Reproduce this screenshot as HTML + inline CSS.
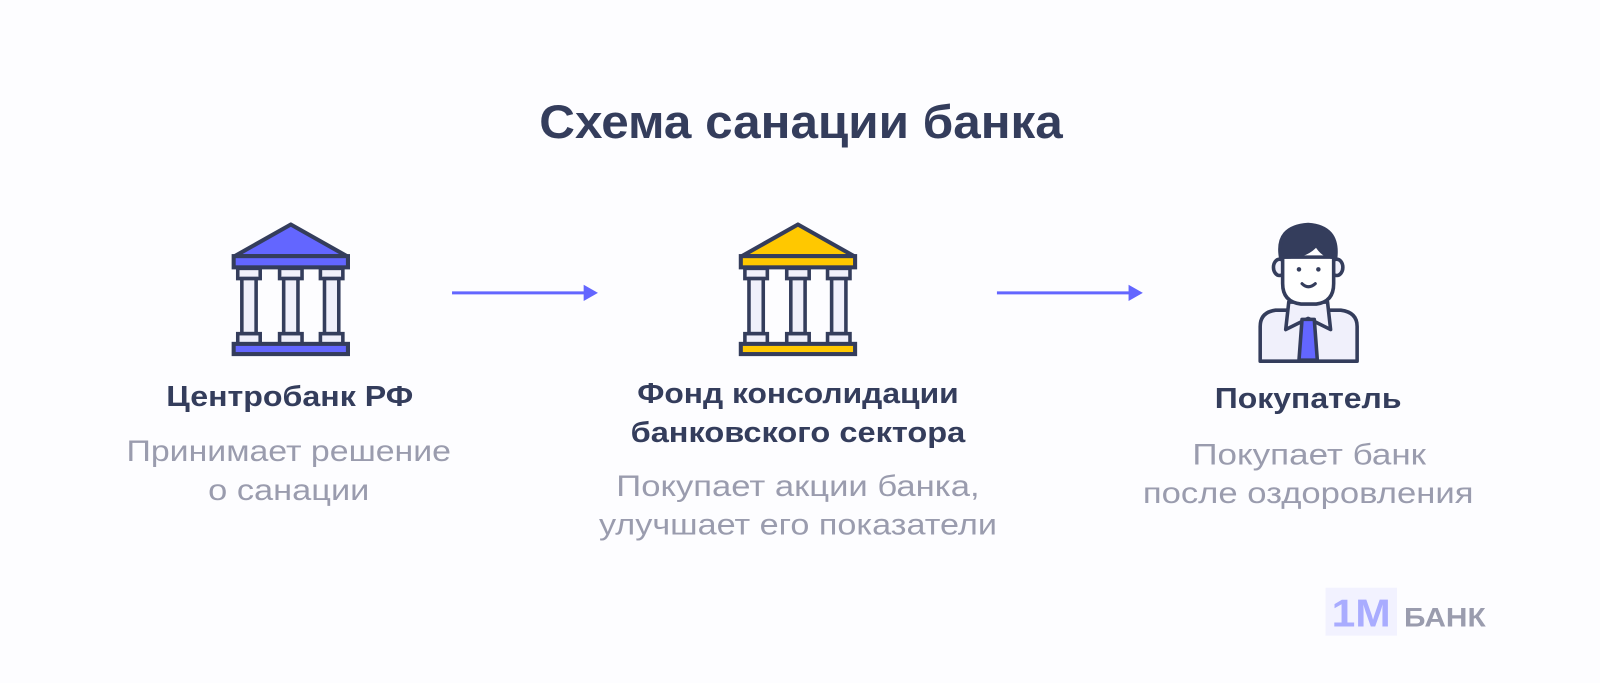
<!DOCTYPE html>
<html><head><meta charset="utf-8"><style>
html,body{margin:0;padding:0;background:#fdfdff;}
svg{display:block;}
.t{font-family:"Liberation Sans",sans-serif;}
</style></head><body>
<svg width="1600" height="683" viewBox="0 0 1600 683" xmlns="http://www.w3.org/2000/svg">
<rect width="1600" height="683" fill="#fdfdff"/>
<defs>
<g id="bank">
 <polygon points="0,-67 -55,-36 55,-36" stroke="#343d5c" stroke-width="4" stroke-linejoin="round"/>
 <rect x="-56" y="-36" width="112" height="11" stroke="#343d5c" stroke-width="4"/>
 <g fill="#f0f0fb" stroke="#343d5c" stroke-width="3.5">
  <rect x="-52" y="-24" width="22" height="10"/><rect x="-11" y="-24" width="22" height="10"/><rect x="29" y="-24" width="22" height="10"/>
  <rect x="-48" y="-14" width="14" height="54"/><rect x="-7" y="-14" width="14" height="54"/><rect x="33" y="-14" width="14" height="54"/>
  <rect x="-52" y="40" width="22" height="10"/><rect x="-11" y="40" width="22" height="10"/><rect x="29" y="40" width="22" height="10"/>
 </g>
 <rect x="-56" y="50" width="112" height="10" stroke="#343d5c" stroke-width="4"/>
</g>
</defs>
<g transform="scale(1.0204)">
<text class="t" x="785" y="135" text-anchor="middle" font-size="46" font-weight="bold" fill="#343d5c" textLength="513" lengthAdjust="spacingAndGlyphs">Схема санации банка</text>

<use href="#bank" x="285" y="287" fill="#6366ff"/>
<use href="#bank" x="782" y="287" fill="#ffc800"/>

<g stroke="#6366ff" stroke-width="3"><line x1="443" y1="287" x2="574" y2="287"/><line x1="977" y1="287" x2="1108" y2="287"/></g>
<polygon points="572,279 586,287 572,295" fill="#6366ff"/>
<polygon points="1106,279 1120,287 1106,295" fill="#6366ff"/>

<g stroke="#343d5c" stroke-width="3.5" stroke-linejoin="round">
 <path d="M1235,354 L1235,320 Q1235,306 1250,304 L1314,304 Q1330,306 1330,320 L1330,354 Z" fill="#f0f0fb"/>
 <polygon points="1263,296 1301,296 1304,323 1282,312 1260,323" fill="#f0f0fb"/>
 <polygon points="1276,313 1288,313 1291,353 1273,353" fill="#6366ff"/>
 <ellipse cx="1254" cy="262" rx="6" ry="8" fill="#f0f0fb"/>
 <ellipse cx="1310" cy="262" rx="6" ry="8" fill="#f0f0fb"/>
 <path d="M1257,252 L1257,278 Q1257,296 1275,298 L1290,298 Q1307,296 1307,278 L1307,252 Z" fill="#fff"/>
 <path d="M1255,252 Q1250,222 1282,220 Q1312,222 1309,252 L1305,252 Q1296,250 1290,240 Q1280,252 1258,252 Z" fill="#343d5c"/>
</g>
<circle cx="1273" cy="264" r="2.2" fill="#343d5c"/><circle cx="1292" cy="264" r="2.2" fill="#343d5c"/>
<path d="M1276,278 Q1282,284 1289,278" stroke="#343d5c" stroke-width="3" fill="none" stroke-linecap="round"/>

<g class="t" text-anchor="middle">
 <text x="284" y="398" font-size="28" font-weight="bold" fill="#343d5c" textLength="242" lengthAdjust="spacingAndGlyphs">Центробанк РФ</text>
 <text x="283" y="452" font-size="29" fill="#9a9cae" textLength="318" lengthAdjust="spacingAndGlyphs">Принимает решение</text>
 <text x="283" y="490" font-size="29" fill="#9a9cae" textLength="158" lengthAdjust="spacingAndGlyphs">о санации</text>

 <text x="782" y="395" font-size="28" font-weight="bold" fill="#343d5c" textLength="315" lengthAdjust="spacingAndGlyphs">Фонд консолидации</text>
 <text x="782" y="433" font-size="28" font-weight="bold" fill="#343d5c" textLength="328" lengthAdjust="spacingAndGlyphs">банковского сектора</text>
 <text x="782" y="486" font-size="29" fill="#9a9cae" textLength="356" lengthAdjust="spacingAndGlyphs">Покупает акции банка,</text>
 <text x="782" y="524" font-size="29" fill="#9a9cae" textLength="390" lengthAdjust="spacingAndGlyphs">улучшает его показатели</text>

 <text x="1282" y="400" font-size="28" font-weight="bold" fill="#343d5c" textLength="183" lengthAdjust="spacingAndGlyphs">Покупатель</text>
 <text x="1283" y="455" font-size="29" fill="#9a9cae" textLength="229" lengthAdjust="spacingAndGlyphs">Покупает банк</text>
 <text x="1282" y="493" font-size="29" fill="#9a9cae" textLength="324" lengthAdjust="spacingAndGlyphs">после оздоровления</text>
</g>

<rect x="1299" y="576" width="70" height="47" fill="#f2f2ff"/>
<text class="t" x="1334" y="614" text-anchor="middle" font-size="38" font-weight="bold" fill="#a9acff" textLength="58" lengthAdjust="spacingAndGlyphs">1М</text>
<text class="t" x="1376" y="614" font-size="26" font-weight="bold" fill="#9a9cae" textLength="80" lengthAdjust="spacingAndGlyphs">БАНК</text>
</g>
</svg>
</body></html>
